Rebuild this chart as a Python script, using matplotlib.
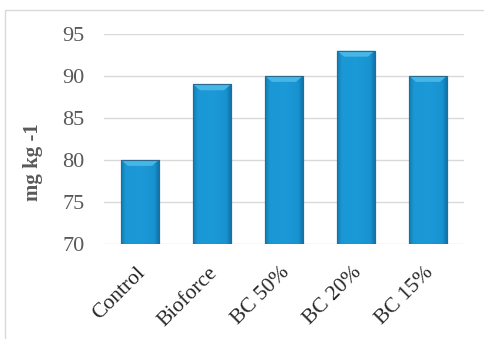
import numpy as np
import matplotlib
matplotlib.use("Agg")
import matplotlib.pyplot as plt
from matplotlib.patches import Rectangle
from matplotlib.colors import LinearSegmentedColormap
import matplotlib.transforms as mtransforms

categories = ["Control", "Bioforce", "BC 50%", "BC 20%", "BC 15%"]
values = [80, 89, 90, 93, 90]
yticks = [70, 75, 80, 85, 90, 95]

plt.rcParams['font.family'] = ['Liberation Serif', 'DejaVu Serif']

fig = plt.figure(figsize=(4.84, 3.39), dpi=100)
ax = fig.add_axes([0.2149, 0.2802, 0.7438, 0.6195])

# outer chart border (cropped at right/bottom like the original)
fig.patches.append(Rectangle((5/484, -0.1), 1.2, 0.1 + 1 - 10/339, transform=fig.transFigure,
                             fill=False, edgecolor='#d9d9d9', linewidth=1))

x = np.arange(len(categories))
bars = ax.bar(x, [v - 70 for v in values], bottom=70, width=0.52,
              color='#1a98d5', edgecolor='#2a5f80', linewidth=0.8, zorder=3)

# slight shading on each bar, flat in the middle, darker at the sides
cmap = LinearSegmentedColormap.from_list('b', [(0, '#137cb7'), (0.12, '#1a97d4'), (0.5, '#1b9ad7'),
                                               (0.88, '#1893d0'), (1, '#1175ad')])
grad = np.linspace(0, 1, 64).reshape(1, -1)
for b in bars:
    x0, y0 = b.get_x(), b.get_y()
    w, h = b.get_width(), b.get_height()
    im = ax.imshow(grad, cmap=cmap, extent=[x0, x0 + w, y0, y0 + h], aspect='auto', zorder=3.5)
    im.set_clip_path(b)
    # top bevel
    ax.fill([x0, x0 + w, x0 + w * 0.82, x0 + w * 0.18], [y0 + h, y0 + h, y0 + h - 0.7, y0 + h - 0.7],
            color='#45b6e6', zorder=4, linewidth=0)
    ax.plot([x0, x0 + w, x0 + w, x0, x0], [y0, y0, y0 + h, y0 + h, y0], color='#2a6a90', lw=0.8, zorder=5)

ax.set_xlim(-0.5, len(categories) - 0.5)
ax.set_ylim(70, 95)
ax.set_yticks(yticks)
ax.yaxis.grid(True, color='#d9d9d9', linewidth=1, zorder=0)
ax.set_axisbelow(True)
for s in ax.spines.values():
    s.set_visible(False)
ax.tick_params(axis='y', length=0, pad=14, labelsize=16, labelcolor='#595959')
ax.tick_params(axis='x', length=0, pad=14, labelsize=15.5, labelcolor='#262626')
ax.set_xticks(x)
ax.set_xticklabels(categories, rotation=45, ha='right', rotation_mode='anchor')
offset = mtransforms.ScaledTranslation(-4/100, 0, fig.dpi_scale_trans)
for lab in ax.get_xticklabels():
    lab.set_transform(lab.get_transform() + offset)
ax.set_ylabel('mg kg -1', fontsize=15, fontweight='bold', color='#595959')
ax.yaxis.set_label_coords(-0.17, 0.39)

fig.savefig('out.png', dpi=100)
